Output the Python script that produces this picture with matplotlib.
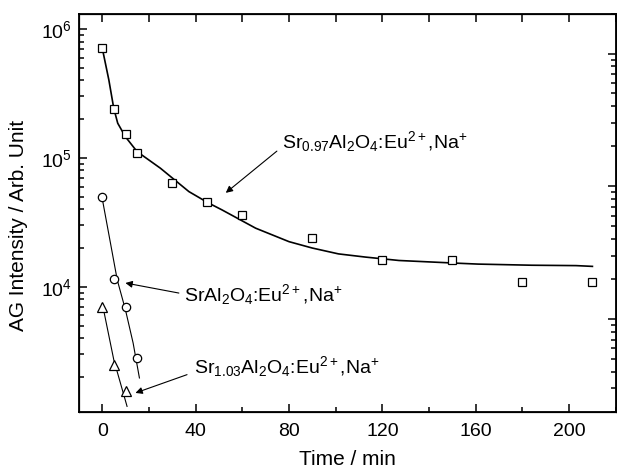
import matplotlib
matplotlib.use("Agg")
import matplotlib.pyplot as plt
from matplotlib.ticker import LogLocator, MultipleLocator, NullFormatter

plt.rcParams["font.family"] = ["Liberation Sans", "DejaVu Sans"]
plt.rcParams["mathtext.fontset"] = "custom"
plt.rcParams["mathtext.rm"] = "Liberation Sans"
plt.rcParams["mathtext.it"] = "Liberation Sans:italic"
plt.rcParams["mathtext.bf"] = "Liberation Sans:bold"
plt.rcParams["font.size"] = 14

# Sr0.97 samples (squares) and fitted curve
sq_x = [0, 5, 10, 15, 30, 45, 60, 90, 120, 150, 180, 210]
sq_y = [7.08e5, 2.39e5, 1.53e5, 1.10e5, 6.37e4, 4.56e4, 3.61e4, 2.38e4, 1.62e4, 1.62e4, 1.09e4, 1.09e4]
sq_fit_x = [0, 2.8, 4.9, 6.6, 9.9, 14.9, 24.9, 37.1, 45.2, 51.3, 65.7, 80, 89.9,
            101.2, 112.8, 127.1, 150, 161, 184, 203, 210]
sq_fit_y = [7.08e5, 4.03e5, 2.43e5, 1.86e5, 1.46e5, 1.12e5, 8.32e4, 5.48e4, 4.5e4,
            3.95e4, 2.85e4, 2.24e4, 2.0e4, 1.8e4, 1.7e4, 1.6e4, 1.53e4, 1.5e4,
            1.47e4, 1.46e4, 1.44e4]

# SrAl2O4 (circles)
ci_x = [0, 5, 10, 15]
ci_y = [4.95e4, 1.15e4, 6.96e3, 2.80e3]
ci_fit_x = [0, 3.5, 6.4, 9.9, 13.2, 15.9]
ci_fit_y = [4.8e4, 2.18e4, 1.13e4, 6.64e3, 3.66e3, 1.96e3]

# Sr1.03 (triangles)
tr_x = [0, 5, 10]
tr_y = [6.96e3, 2.48e3, 1.54e3]
tr_fit_x = [0, 4.9, 10.6]
tr_fit_y = [7.4e3, 2.72e3, 1.18e3]

labels = [r"Sr$_{0.97}$Al$_2$O$_4$:Eu$^{2+}$,Na$^{+}$",
          r"SrAl$_2$O$_4$:Eu$^{2+}$,Na$^{+}$",
          r"Sr$_{1.03}$Al$_2$O$_4$:Eu$^{2+}$,Na$^{+}$"]

fig = plt.figure(figsize=(6.17, 4.68), dpi=100)
ax = fig.add_axes([0.128, 0.12, 0.87, 0.851])

ax.plot(sq_fit_x, sq_fit_y, color="black", lw=1.2)
ax.plot(ci_fit_x, ci_fit_y, color="black", lw=0.8)
ax.plot(tr_fit_x, tr_fit_y, color="black", lw=0.8)
mk = dict(ls="none", mfc="white", mec="black", mew=0.9, zorder=3)
ax.plot(sq_x, sq_y, marker="s", ms=5.2, **mk)
ax.plot(ci_x, ci_y, marker="o", ms=6, **mk)
ax.plot(tr_x, tr_y, marker="^", ms=6.5, **mk)

ax.set_yscale("log")
ax.set_xlim(-10, 220)
ax.set_ylim(1070, 1.32e6)
ax.xaxis.set_major_locator(MultipleLocator(40))
ax.xaxis.set_minor_locator(MultipleLocator(20))
ax.yaxis.set_major_locator(LogLocator(base=10))
ax.yaxis.set_minor_locator(LogLocator(base=10, subs=range(2, 10)))
ax.yaxis.set_minor_formatter(NullFormatter())
ax.tick_params(which="both", direction="in", top=False, right=False, width=1.1)
ax.tick_params(which="major", length=6)
ax.tick_params(which="minor", length=3.5)
ax.tick_params(axis="x", pad=8)
ax.tick_params(axis="y", pad=5)
for s in ax.spines.values():
    s.set_linewidth(1.3)

ax.set_xlabel("Time / min", fontsize=15, labelpad=7)
ax.set_ylabel("AG Intensity / Arb. Unit", fontsize=15)
ax.yaxis.set_label_coords(-0.095, 0.467)

# top axis: ticks every 20, no labels
axt = ax.twiny()
axt.set_xlim(ax.get_xlim())
axt.xaxis.set_major_locator(MultipleLocator(20))
axt.tick_params(direction="in", length=6, width=1.1, labeltop=False)

# right axis: log ticks, no labels
axr = ax.twinx()
axr.set_yscale("log")
axr.set_ylim(200, 2e5)
axr.yaxis.set_minor_locator(LogLocator(base=10, subs=range(2, 10)))
axr.tick_params(which="both", direction="in", width=1.1, labelright=False)
axr.tick_params(which="major", length=6)
axr.tick_params(which="minor", length=3.5)

arrow = dict(arrowstyle="-|>", lw=0.8, color="black", mutation_scale=10,
             shrinkA=0, shrinkB=0)
ax.text(76.9, 1.20e5, labels[0], ha="left", va="baseline")
ax.annotate("", xy=(52.9, 5.36e4), xytext=(74.8, 1.13e5), arrowprops=arrow)
ax.text(34.9, 7.69e3, labels[1], ha="left", va="baseline")
ax.annotate("", xy=(9.9, 1.07e4), xytext=(32.8, 8.94e3), arrowprops=arrow)
ax.text(39.2, 2.14e3, labels[2], ha="left", va="baseline")
ax.annotate("", xy=(14.2, 1.50e3), xytext=(36.3, 2.08e3), arrowprops=arrow)

fig.savefig("out.png", dpi=100)
